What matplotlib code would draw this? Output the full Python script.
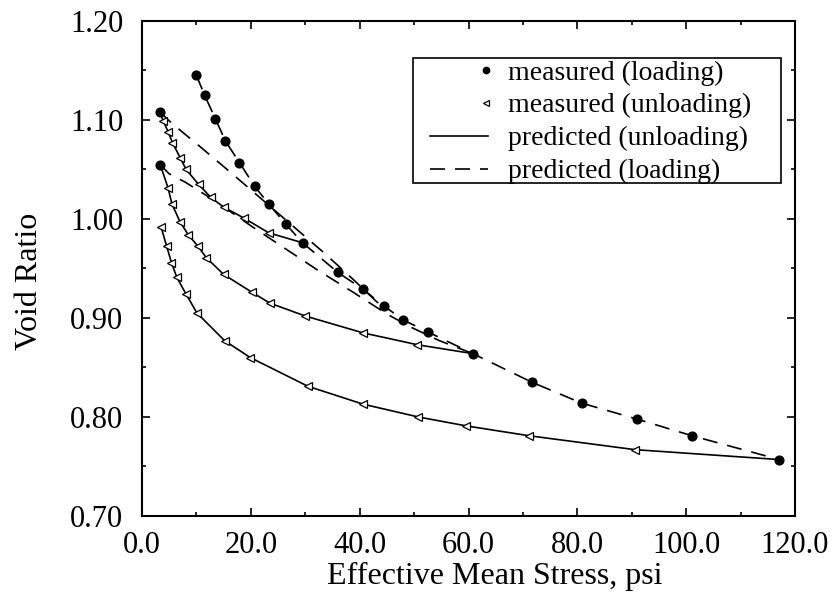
import numpy as np
import matplotlib.pyplot as plt
from matplotlib.ticker import MultipleLocator
from matplotlib.legend_handler import HandlerLine2D
from matplotlib.patches import Rectangle

plt.rcParams['font.family'] = ['Liberation Serif', 'DejaVu Serif']

# measured loading points (psi, void ratio)
load_x = [10.0, 11.5, 13.5, 15.3, 17.9, 20.7, 23.3, 26.4, 29.5, 36.0, 40.6,
          44.5, 48.0, 52.5, 60.8, 71.7, 80.8, 90.9, 101.1, 117.1]
load_y = [1.145, 1.125, 1.101, 1.079, 1.057, 1.033, 1.015, 0.995, 0.976, 0.946,
          0.929, 0.912, 0.898, 0.886, 0.864, 0.835, 0.814, 0.798, 0.781, 0.757]
reload_start_x = [3.3, 3.35]
reload_start_y = [1.108, 1.055]

# measured unloading points, three cycles
unl1_x = [23.3, 18.7, 15.0, 12.6, 10.4, 8.1, 7.0, 5.6, 4.8, 3.9]
unl1_y = [0.986, 1.001, 1.012, 1.022, 1.035, 1.050, 1.062, 1.077, 1.088, 1.099]
unl2_x = [50.6, 40.6, 30.0, 23.5, 20.2, 15.0, 11.8, 10.2, 8.5, 7.0, 5.5, 4.8]
unl2_y = [0.873, 0.885, 0.902, 0.915, 0.926, 0.944, 0.961, 0.973, 0.984, 0.997,
          1.015, 1.031]
unl3_x = [90.6, 71.2, 59.6, 50.8, 40.6, 30.5, 19.9, 15.2, 10.1, 8.1, 6.4, 5.4, 4.5, 3.5]
unl3_y = [0.767, 0.781, 0.791, 0.800, 0.813, 0.831, 0.860, 0.877, 0.905, 0.924,
          0.941, 0.956, 0.973, 0.992]

# predicted loading: virgin curve and two reloading branches
pl_main_x = load_x
pl_main_y = load_y
pl_r1_x = [3.3, 5.4, 10.9, 16.5, 22.0, 27.7, 33.2, 38.8, 43.2, 44.5]
pl_r1_y = [1.108, 1.097, 1.072, 1.046, 1.020, 0.993, 0.967, 0.939, 0.916, 0.912]
pl_r2_x = [3.35, 4.9, 8.0, 13.2, 20.3, 25.8, 32.1, 38.8, 45.0, 49.3, 54.7, 60.8]
pl_r2_y = [1.055, 1.046, 1.037, 1.019, 0.992, 0.972, 0.949, 0.926, 0.904, 0.891,
           0.877, 0.864]
# predicted unloading branches start at the loading point where unloading began
pu1_x = [29.5] + unl1_x + [3.3]
pu1_y = [0.976] + unl1_y + [1.108]
pu2_x = [60.8] + unl2_x + [3.35]
pu2_y = [0.864] + unl2_y + [1.055]
pu3_x = [117.1] + unl3_x
pu3_y = [0.757] + unl3_y

fig = plt.figure(figsize=(8.33, 6.10), dpi=100)
ax = fig.add_axes([0.1705, 0.1541, 0.7839, 0.8115])

dash = (0, (9, 6))
lw = 1.2
for xs, ys in [(pu1_x, pu1_y), (pu2_x, pu2_y), (pu3_x, pu3_y)]:
    ax.plot(xs, ys, color='black', lw=lw)
for xs, ys in [(pl_main_x, pl_main_y), (pl_r1_x, pl_r1_y), (pl_r2_x, pl_r2_y)]:
    ax.plot(xs, ys, color='black', lw=lw, linestyle=dash)

ax.plot(load_x + reload_start_x, load_y + reload_start_y, 'o', color='black',
        ms=6.3, ls='none', zorder=4)
ax.plot(unl1_x + unl2_x + unl3_x, unl1_y + unl2_y + unl3_y, '<', mfc='white',
        mec='black', mew=0.9, ms=5.4, ls='none', zorder=4)


class RightMarker(HandlerLine2D):
    # put the legend symbol at the right end of the handle
    def get_xdata(self, legend, xdescent, ydescent, width, height, fontsize):
        m = -xdescent + width - 2
        return [m - 1, m + 1], [m]


h1, = ax.plot([], [], 'o', color='black', ms=4.5, ls='none')
h2, = ax.plot([], [], '<', mfc='white', mec='black', mew=0.9, ms=4.2, ls='none')
h3, = ax.plot([], [], color='black', lw=lw)
h4, = ax.plot([], [], color='black', lw=lw, linestyle=dash)
leg = ax.legend([h1, h2, h3, h4],
                ['measured (loading)', 'measured (unloading)',
                 'predicted (unloading)', 'predicted (loading)'],
                handler_map={h1: RightMarker(), h2: RightMarker()},
                loc='upper left', bbox_to_anchor=(0.441, 0.921), fontsize=20,
                frameon=False, borderaxespad=0, borderpad=0, labelspacing=0.27,
                handlelength=2.1, handletextpad=0.72)
ax.add_patch(Rectangle((0.415, 0.673), 0.564, 0.252, transform=ax.transAxes,
                       fill=False, ec='black', lw=1.2, zorder=5))

ax.set_xlim(0, 120)
ax.set_ylim(0.70, 1.20)
ax.xaxis.set_major_locator(MultipleLocator(20))
ax.xaxis.set_minor_locator(MultipleLocator(10))
ax.yaxis.set_major_locator(MultipleLocator(0.1))
ax.yaxis.set_minor_locator(MultipleLocator(0.05))
ax.xaxis.set_major_formatter(plt.FormatStrFormatter('%.1f'))
ax.yaxis.set_major_formatter(plt.FormatStrFormatter('%.2f'))
ax.tick_params(which='both', direction='in', top=True, right=True, labelsize=22, width=1.2)
ax.tick_params(which='major', length=6)
ax.tick_params(which='minor', length=3)
ax.tick_params(axis='x', which='major', pad=11)
ax.tick_params(axis='y', which='major', pad=13.5)
for s in ax.spines.values():
    s.set_linewidth(1.5)

ax.set_xlabel('Effective Mean Stress, psi', fontsize=23)
ax.set_ylabel('Void Ratio', fontsize=23)
ax.xaxis.set_label_coords(0.54, -0.092)
ax.yaxis.set_label_coords(-0.150, 0.473)

fig.savefig('out.png', dpi=100)
